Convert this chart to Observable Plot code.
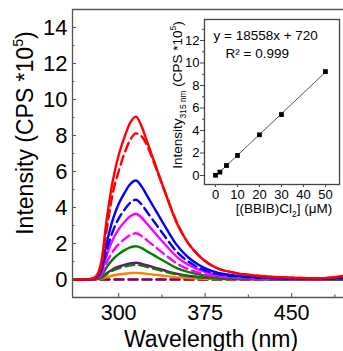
<!DOCTYPE html>
<html><head><meta charset="utf-8">
<script src="https://cdn.jsdelivr.net/npm/d3@7"></script>
<script src="https://cdn.jsdelivr.net/npm/@observablehq/plot@0.6"></script>
<style>
html,body{margin:0;padding:0;background:#fff;}
#wrap{position:relative;width:343px;height:351px;overflow:hidden;font-family:"Liberation Sans",Arial,sans-serif;}
#main{position:absolute;left:0;top:0;}
#inset{position:absolute;left:165px;top:0;}
</style></head><body>
<div id="wrap"><div id="main"></div><div id="inset"></div></div>
<script>
// ---- data ----
const wavelengths = [260,275,280,285,290,295,300,305,310,315,320,325,330,340,350,360,370,385,400,425,450,475,495];
const redSolid     = [0,0.02,0.15,1.0,3.5,5.5,6.9,7.9,8.7,9.05,8.5,7.6,6.7,4.9,3.2,2.05,1.3,0.64,0.38,0.18,0.1,0.07,0.2];
const redDashed    = [0,0.01,0.1,0.75,2.9,4.8,6.0,7.0,7.75,8.12,7.95,7.4,6.6,4.9,3.25,2.05,1.3,0.64,0.38,0.18,0.1,0.07,0.18];
const blueSolid    = [0,0.01,0.09,0.6,2.13,3.34,4.19,4.8,5.29,5.5,5.16,4.62,4.07,2.98,1.95,1.25,0.79,0.39,0.23,0.11,0.06,0.04,0.1];
const blueDashed   = [0,0.01,0.08,0.49,1.71,2.69,3.38,3.87,4.26,4.43,4.16,3.72,3.28,2.4,1.57,1.01,0.64,0.31,0.19,0.09,0.05,0.04,0.08];
const magentaSolid = [0,0.01,0.06,0.4,1.41,2.22,2.78,3.19,3.51,3.65,3.43,3.07,2.7,1.97,1.29,0.83,0.53,0.26,0.15,0.07,0.04,0.03,0.1];
const magentaDashed= [0,0,0.04,0.28,0.99,1.56,1.96,2.24,2.47,2.57,2.41,2.16,1.9,1.39,0.91,0.58,0.37,0.18,0.11,0.05,0.03,0.02,0.08];
const greenSolid   = [0,0,0.03,0.2,0.72,1.12,1.41,1.62,1.78,1.85,1.74,1.55,1.37,1.0,0.65,0.42,0.27,0.13,0.08,0.04,0.02,0.01,0.02];
const greenDashed  = [0,0,0.01,0.09,0.32,0.5,0.62,0.72,0.79,0.82,0.77,0.69,0.61,0.44,0.29,0.19,0.12,0.06,0.03,0.02,0.01,0.01,0.01];
const purpleSolid  = [0,0,0.02,0.1,0.36,0.57,0.71,0.81,0.89,0.93,0.87,0.78,0.69,0.5,0.33,0.21,0.13,0.07,0.04,0.02,0.01,0.01,0.01];
const purpleDashed = [0,0,0,0,0,0,0,0,0,0,0,0,0,0,0,0,0,0,0,0,0,0,0];
const orangeSolid  = [0,0,0.01,0.04,0.14,0.22,0.28,0.32,0.36,0.37,0.35,0.31,0.27,0.2,0.13,0.08,0.05,0.03,0.02,0.01,0,0,0];
const orangeDashed = [0,0,0,0,0,0,0,0,0,0,0,0,0,0,0,0,0,0,0,0,0,0,0];

const mainYTicks = [0,2,4,6,8,10,12,14];
const mainYMinor = [1,3,5,7,9,11,13];
const mainXTicks = [300,375,450];
const mainXMinor = [337.5,412.5,487.5];

const concentrations = [0,2,5,10,20,30,50];
const intensity315   = [0.02,0.3,0.89,1.78,3.62,5.42,9.24];
const insetYTicks = [0,2,4,6,8,10,12];
const insetYMinor = [1,3,5,7,9,11,13];
const insetXTicks = [0,10,20,30,40,50];
const fitLabel = "y = 18558x + 720";
const r2Label = "R\u00B2 = 0.999";

// ---- styles (kept apart from data) ----
const series = [
  {v: orangeDashed,  c: "#ff8000", d: "9,5"},
  {v: purpleDashed,  c: "#800080", d: "9,5"},
  {v: orangeSolid,   c: "#ff8000", d: null},
  {v: purpleSolid,   c: "#800080", d: null},
  {v: greenDashed,   c: "#008000", d: "9,5"},
  {v: greenSolid,    c: "#008000", d: null},
  {v: magentaDashed, c: "#ff00ff", d: "9,5"},
  {v: magentaSolid,  c: "#ff00ff", d: null},
  {v: blueDashed,    c: "#0000ff", d: "9,5"},
  {v: blueSolid,     c: "#0000ff", d: null},
  {v: redDashed,     c: "#ff0000", d: "9,5"},
  {v: redSolid,      c: "#ff0000", d: null}
];

const FONT = "Liberation Sans, Arial, sans-serif";
const AX = "#555";

// ---- main plot ----
const W = 343, H = 351, mL = 72, mR = 0, mT = 9, mB = 54;
const innerW = W - mL - mR, innerH = H - mT - mB;
const xDom = [260, 495], yDom = [-1, 15];

const lineMarks = series.map(s => Plot.line(
  wavelengths.map((w, i) => ({w, v: s.v[i]})),
  {x: "w", y: "v", stroke: s.c, strokeWidth: 2.4, strokeDasharray: s.d, curve: "monotone-x", clip: true}
));

const main = Plot.plot({
  width: W, height: H,
  marginLeft: mL, marginRight: mR, marginTop: mT, marginBottom: mB,
  style: {fontFamily: FONT, background: "white", color: "#000"},
  x: {domain: xDom, label: null},
  y: {domain: yDom, label: null},
  marks: [
    ...lineMarks,
    Plot.ruleY([yDom[1]], {stroke: AX, strokeWidth: 1.3}),
    Plot.ruleY([yDom[0]], {stroke: AX, strokeWidth: 1.3}),
    Plot.ruleX([xDom[0]], {stroke: AX, strokeWidth: 1.3}),
    Plot.ruleY(mainYTicks, {stroke: AX, strokeWidth: 1.1, insetRight: innerW - 4}),
    Plot.ruleY(mainYMinor, {stroke: AX, strokeWidth: 1.1, insetRight: innerW - 2.5}),
    Plot.ruleX(mainXTicks, {stroke: AX, strokeWidth: 1.1, insetTop: innerH - 4}),
    Plot.ruleX(mainXMinor, {stroke: AX, strokeWidth: 1.1, insetTop: innerH - 2.5}),
    Plot.axisY({ticks: mainYTicks, tickSize: 0, tickPadding: 5, fontSize: 22, label: null}),
    Plot.axisX({ticks: mainXTicks, tickSize: 0, tickPadding: 7, fontSize: 21.5, label: null}),
    Plot.text(["Wavelength (nm)"], {frameAnchor: "bottom", dx: 3, dy: 49, fontSize: 23, lineAnchor: "bottom"})
  ]
});
document.getElementById("main").appendChild(main);

function richText(svg, x, y, rotate, parts, size, anchor) {
  const t = d3.select(svg).append("text")
    .attr("transform", `translate(${x},${y})` + (rotate ? ` rotate(${rotate})` : ""))
    .attr("text-anchor", anchor || "middle")
    .attr("font-size", size)
    .attr("font-family", FONT)
    .attr("fill", "#000");
  let shift = 0;
  for (const p of parts) {
    const sp = t.append("tspan").text(p.t);
    let target = 0;
    if (p.sup) { target = -0.45 * size; sp.attr("font-size", size * 0.62); }
    if (p.sub) { target = 0.3 * size; sp.attr("font-size", size * 0.62); }
    if (target !== shift) { sp.attr("dy", target - shift); shift = target; }
  }
}
richText(main, 33, 133, -90, [{t: "Intensity (CPS *10"}, {t: "5", sup: true}, {t: ")"}], 23);

// ---- inset plot ----
const iW = 178, iH = 225, imL = 39, imR = 4, imT = 19, imB = 41;
const iInnerW = iW - imL - imR;
const insetData = concentrations.map((c, i) => ({c, v: intensity315[i]}));
const inset = Plot.plot({
  width: iW, height: iH,
  marginLeft: imL, marginRight: imR, marginTop: imT, marginBottom: imB,
  style: {fontFamily: FONT, background: "transparent", color: "#000"},
  x: {domain: [-5, 56.4], label: null},
  y: {domain: [-0.8, 13.87], label: null},
  marks: [
    Plot.frame({fill: "white", stroke: "#444", strokeWidth: 1.3}),
    Plot.linearRegressionY(insetData, {x: "c", y: "v", stroke: "#555", strokeWidth: 1, ci: 0}),
    Plot.dot(insetData, {x: "c", y: "v", symbol: "square", fill: "#000", r: 2.7}),
    Plot.ruleY(insetYMinor, {stroke: "#444", strokeWidth: 1, insetLeft: -2, insetRight: iInnerW}),
    Plot.axisY({ticks: insetYTicks, tickSize: 4, tickPadding: 1, fontSize: 13, label: null, stroke: "#444"}),
    Plot.axisX({ticks: insetXTicks, tickSize: 3, tickPadding: 2, fontSize: 13, label: null, stroke: "#444"}),
    Plot.text([fitLabel], {frameAnchor: "top-left", dx: 9, dy: 11, textAnchor: "start", fontSize: 13.5}),
    Plot.text([r2Label], {frameAnchor: "top-left", dx: 21, dy: 29, textAnchor: "start", fontSize: 13.5})
  ]
});
document.getElementById("inset").appendChild(inset);
richText(inset, 17, 95, -90, [{t: "Intensity"}, {t: "315 nm", sub: true}, {t: " (CPS *10"}, {t: "5", sup: true}, {t: ")"}], 13.5);
richText(inset, 119, 213, 0, [{t: "[(BBIB)Cl"}, {t: "2", sub: true}, {t: "] (\u03BCM)"}], 13.5);
</script>
</body></html>
